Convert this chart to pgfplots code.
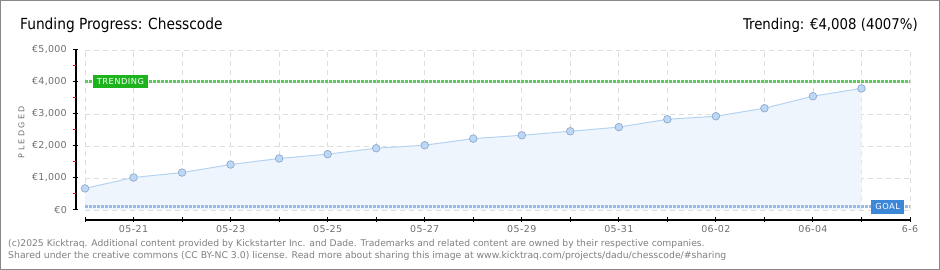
\documentclass[border=0pt]{standalone}
\usepackage{fontspec}
\setmainfont{DejaVu Sans}
\newfontfamily\condfont{DejaVu Sans Condensed}
\usepackage{pgfplots}
\pgfplotsset{compat=1.18}
\definecolor{gridc}{HTML}{DDDDDD}
\definecolor{areafill}{HTML}{EEF5FD}
\definecolor{arealine}{HTML}{B5D3F3}
\definecolor{markfill}{HTML}{BDD8F6}
\definecolor{markdraw}{HTML}{8FA9C9}
\definecolor{trendc}{HTML}{5CCC5C}
\definecolor{trendbox}{HTML}{1DB31D}
\definecolor{goalc}{HTML}{9ABBE6}
\definecolor{goalbox}{HTML}{3C87D8}
\definecolor{tickc}{HTML}{707070}
\definecolor{footc}{HTML}{808080}
\definecolor{framec}{HTML}{888888}
\begin{document}
\begin{tikzpicture}[x=1pt,y=1pt]
\useasboundingbox (0,0) rectangle (940,270);
\fill[white] (0,0) rectangle (940,270);
\draw[framec, line width=1.2pt] (0.6,0.6) rectangle (939.4,269.4);
\begin{axis}[
  at={(85pt,60pt)}, anchor=south west,
  scale only axis, width=825pt, height=160pt,
  xmin=0, xmax=17, ymin=0, ymax=5000,
  axis line style={draw=none},
  major tick length=0pt,
  xtick={0,...,17},
  xticklabels={,05-21,,05-23,,05-25,,05-27,,05-29,,05-31,,06-02,,06-04,,6-6},
  ytick={0,1000,2000,3000,4000,5000},
  yticklabels={{€0},{€1,000},{€2,000},{€3,000},{€4,000},{€5,000}},
  grid=major,
  grid style={gridc, dash pattern=on 5pt off 4pt, line width=0.8pt},
  xticklabel style={font=\fontsize{9.5}{10}\selectfont\addfontfeature{LetterSpace=4}, text=tickc, inner sep=0pt, anchor=north, yshift=-15pt},
  yticklabel style={font=\fontsize{9.5}{10}\selectfont\addfontfeature{LetterSpace=3}, text=tickc, inner sep=0pt, anchor=east, xshift=-18pt},
  clip=false,
]
\addplot[fill=areafill, draw=none, forget plot] coordinates {
(0,675) (1,1015) (2,1170) (3,1420) (4,1610) (5,1745) (6,1930) (7,2025) (8,2230)
(9,2335) (10,2460) (11,2590) (12,2835) (13,2930) (14,3180) (15,3555) (16,3800)
} \closedcycle;
\addplot[goalc, line width=2.6pt, dash pattern=on 2.6pt off 1.4pt] coordinates {(0,100) (17,100)};
\addplot[trendc, line width=2.6pt, dash pattern=on 2.6pt off 1.4pt] coordinates {(0,4008) (17,4008)};
\addplot[arealine, line width=1pt, mark=*, mark size=3.8pt,
  mark options={fill=markfill, draw=markdraw, line width=0.7pt}] coordinates {
(0,675) (1,1015) (2,1170) (3,1420) (4,1610) (5,1745) (6,1930) (7,2025) (8,2230)
(9,2335) (10,2460) (11,2590) (12,2835) (13,2930) (14,3180) (15,3555) (16,3800)
};
\node[fill=trendbox, text=white, minimum width=55pt, minimum height=13pt, inner sep=0pt,
  font=\fontsize{8.3}{9}\selectfont\addfontfeature{LetterSpace=6}] at (axis cs:0.73,4008) {TRENDING};
\node[fill=goalbox, text=white, minimum width=33pt, minimum height=14pt, inner sep=0pt,
  font=\fontsize{8.3}{9}\selectfont\addfontfeature{LetterSpace=6}] at (axis cs:16.54,100) {GOAL};
\end{axis}
% axis spines and ticks
\draw[black, line width=1.4pt] (76,60) -- (76,220);
\draw[black, line width=1.4pt] (85,50) -- (910,50);
\foreach \i in {0,...,17} \draw[black, line width=1pt] ({85+\i*48.5294},47.5) -- ({85+\i*48.5294},52.5);
\foreach \v in {0,...,5} \draw[black, line width=1pt] (72.5,{60+\v*32}) -- (77.5,{60+\v*32});
\foreach \v in {0,...,4} \draw[red, line width=1pt] (72.5,{76+\v*32}) -- (76,{76+\v*32});
% texts
\node[rotate=90, text=tickc, font=\fontsize{8}{9}\selectfont\addfontfeature{LetterSpace=30}, inner sep=0pt] at (21.5,138) {PLEDGED};
\node[anchor=base west, inner sep=0pt, font=\condfont\fontsize{15.3}{16}\selectfont] at (20,240.7) {Funding Progress: Chesscode};
\node[anchor=base east, inner sep=0pt, font=\condfont\fontsize{14.8}{16}\selectfont] at (918,240.7) {Trending: €4,008 (4007\%)};
\node[anchor=base west, inner sep=0pt, text=footc, font=\fontsize{9.2}{10}\selectfont] at (8,23.5) {(c)2025 Kicktraq. Additional content provided by Kickstarter Inc. and Dade. Trademarks and related content are owned by their respective companies.};
\node[anchor=base west, inner sep=0pt, text=footc, font=\fontsize{9.3}{10}\selectfont] at (8,11.5) {Shared under the creative commons (CC BY-NC 3.0) license. Read more about sharing this image at www.kicktraq.com/projects/dadu/chesscode/\#sharing};
\end{tikzpicture}
\end{document}
